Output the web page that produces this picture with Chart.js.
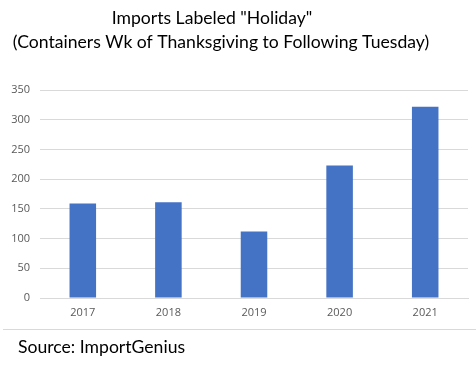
<!DOCTYPE html>
<html><head><meta charset="utf-8">
<script src="https://cdn.jsdelivr.net/npm/chart.js@4"></script>
<style>html,body{margin:0;padding:0;background:#fff}#c{display:block}</style>
</head><body>
<canvas id="c" width="476" height="370"></canvas>
<script>
const categories = ["2017", "2018", "2019", "2020", "2021"];
const containers = [159, 161, 112, 223, 322];
const yTicks = [0, 50, 100, 150, 200, 250, 300, 350];
const titleLines = ['Imports Labeled "Holiday"', '(Containers Wk of Thanksgiving to Following Tuesday)'];
const sourceText = "Source: ImportGenius";

const textPlugin = {
  id: 'textPlugin',
  afterDraw(chart) {
    const ctx = chart.ctx;
    ctx.save();
    ctx.fillStyle = '#000';
    ctx.textBaseline = 'middle';
    ctx.textAlign = 'center';
    ctx.font = '17.6px Lato';
    ctx.fillText(titleLines[0], 212, 18);
    ctx.fillText(titleLines[1], 221, 42);
    ctx.strokeStyle = '#d9d9d9';
    ctx.lineWidth = 1;
    ctx.beginPath();
    ctx.moveTo(3, 329.5);
    ctx.lineTo(476, 329.5);
    ctx.stroke();
    ctx.textAlign = 'left';
    ctx.font = '17.6px Lato';
    ctx.fillText(sourceText, 18, 347);
    ctx.restore();
  }
};

new Chart(document.getElementById('c'), {
  type: 'bar',
  data: {
    labels: categories,
    datasets: [{
      data: containers,
      backgroundColor: '#4472C4',
      barPercentage: 0.31,
      categoryPercentage: 1.0
    }]
  },
  options: {
    responsive: false,
    animation: false,
    devicePixelRatio: 1,
    layout: { padding: { top: 90, right: 8, bottom: 0, left: 0 } },
    plugins: { legend: { display: false }, title: { display: false }, tooltip: { enabled: false } },
    scales: {
      x: {
        grid: { display: false, drawTicks: false },
        border: { display: true, color: '#d9d9d9' },
        ticks: { color: '#595959', font: { family: 'Open Sans', size: 11 }, padding: 8 },
        afterFit: s => { s.height = 72; }
      },
      y: {
        min: 0, max: 350,
        afterBuildTicks: s => { s.ticks = yTicks.map(v => ({ value: v })); },
        grid: { color: '#d9d9d9', drawTicks: false },
        border: { display: false },
        ticks: { color: '#595959', font: { family: 'Open Sans', size: 11 }, padding: 10 },
        afterFit: s => { s.width = 40; }
      }
    }
  },
  plugins: [textPlugin]
});
</script>
</body></html>
